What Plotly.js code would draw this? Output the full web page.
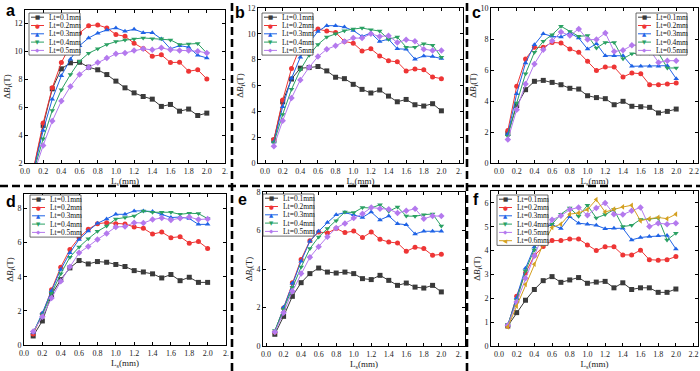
<!DOCTYPE html>
<html>
<head>
<meta charset="utf-8">
<script src="https://cdn.plot.ly/plotly-3.0.1.min.js"></script>
<style>html,body{margin:0;padding:0;background:#fff;}#chart{width:700px;height:371px;}</style>
</head>
<body>
<div id="chart"></div>
<script>
// ---------------- DATA ----------------
const LS = [0.1,0.2,0.3,0.4,0.5,0.6,0.7,0.8,0.9,1.0,1.1,1.2,1.3,1.4,1.5,1.6,1.7,1.8,1.9,2.0];
const LT_LABELS = ['Lt=0.1mm','Lt=0.2mm','Lt=0.3mm','Lt=0.4mm','Lt=0.5mm','Lt=0.6mm'];
const PANEL_LETTERS = ['a','b','c','d','e','f'];

// panel a
const a_lt01 = [1.7,4.69,7.31,8.74,9.17,9.21,8.86,8.67,8.33,7.86,7.38,7.02,6.76,6.57,6.05,6.19,5.71,5.86,5.40,5.57];
const a_lt02 = [1.8,4.86,7.38,9.19,10.43,11.31,11.83,11.88,11.67,11.19,11.07,10.57,10.19,9.64,9.74,9.19,9.21,8.57,8.67,8.02];
const a_lt03 = [1.6,4.33,6.57,8.24,9.43,10.40,10.95,11.29,11.52,11.67,11.43,11.57,11.33,11.33,10.88,10.17,10.40,10.29,9.71,9.52];
const a_lt04 = [1.5,3.74,5.76,7.24,8.33,9.29,9.86,10.17,10.48,10.69,10.81,10.88,10.95,10.90,10.90,10.81,10.48,10.52,10.55,9.86];
const a_lt05 = [1.3,3.26,5.00,6.43,7.48,8.33,8.86,9.19,9.52,9.81,9.88,10.05,10.17,10.10,10.24,10.10,10.05,10.05,10.00,9.88];
// panel b
const b_lt01 = [1.76,4.74,6.50,7.34,7.39,7.47,7.13,6.64,6.53,6.09,5.70,5.42,5.65,5.18,4.74,4.92,4.51,4.41,4.59,4.04];
const b_lt02 = [1.81,4.87,7.31,9.02,10.06,10.37,10.21,10.11,9.41,9.28,8.68,8.84,8.29,7.91,7.83,7.13,7.28,7.21,6.66,6.53];
const b_lt03 = [1.63,4.35,6.56,8.19,9.33,10.19,10.63,10.63,10.52,10.26,9.80,10.06,9.41,9.59,8.84,8.81,8.04,8.29,8.24,8.09];
const b_lt04 = [1.56,3.76,5.70,7.21,8.35,9.18,9.75,10.00,10.24,10.37,10.45,10.32,10.21,9.59,9.75,8.97,8.97,9.23,9.12,8.19];
const b_lt05 = [1.30,3.27,5.03,6.43,7.41,8.24,8.81,9.07,9.41,9.67,9.67,10.00,9.80,9.85,9.33,9.54,9.43,8.81,8.71,8.71];
// panel c
const c_lt01 = [1.90,3.70,4.73,5.27,5.33,5.20,5.05,4.82,4.77,4.34,4.22,4.15,3.76,3.98,3.66,3.63,3.59,3.23,3.33,3.48];
const c_lt02 = [2.09,4.95,6.71,7.46,7.46,7.78,7.74,7.35,7.14,6.56,5.96,6.19,6.19,5.55,5.81,5.76,5.05,5.05,5.10,5.16];
const c_lt03 = [1.87,4.47,6.45,7.63,8.34,8.17,8.13,8.39,8.06,7.35,7.70,6.92,6.92,6.92,6.24,6.24,6.24,6.24,6.28,5.44];
const c_lt04 = [1.72,3.87,5.76,7.14,7.85,8.28,8.82,8.49,8.17,8.22,7.42,7.78,7.78,6.73,7.05,7.10,7.10,7.10,6.13,6.13];
const c_lt05 = [1.51,3.44,5.10,6.39,7.31,7.89,8.45,8.22,8.65,7.96,7.96,8.39,7.20,7.27,7.59,7.63,7.31,6.49,6.60,6.60];
// panel d
const d_lt01 = [0.53,1.41,2.95,3.83,4.52,4.95,4.75,4.89,4.85,4.72,4.60,4.36,4.28,4.17,3.93,4.13,3.77,3.97,3.67,3.67];
const d_lt02 = [0.65,1.81,3.24,4.56,5.60,6.29,6.78,7.11,7.17,7.11,7.09,6.92,6.84,6.50,6.62,6.29,6.35,5.97,6.07,5.66];
const d_lt03 = [0.73,1.87,3.18,4.42,5.40,6.19,6.68,7.13,7.39,7.66,7.66,7.86,7.86,7.82,7.66,7.47,7.50,7.41,7.07,7.07];
const d_lt04 = [0.75,1.77,3.03,4.17,5.15,5.74,6.23,6.66,6.97,7.39,7.47,7.56,7.86,7.78,7.78,7.78,7.66,7.72,7.70,7.41];
const d_lt05 = [0.79,1.65,2.75,3.73,4.58,5.40,5.78,6.19,6.54,6.92,6.94,7.17,7.15,7.35,7.45,7.33,7.43,7.50,7.35,7.39];
// panel e
const e_lt01 = [0.61,1.54,2.58,3.29,3.76,4.05,3.84,3.79,3.84,3.76,3.50,3.45,3.67,3.41,3.15,3.27,3.06,3.01,3.15,2.81];
const e_lt02 = [0.73,1.97,3.29,4.50,5.47,5.92,5.87,6.10,5.89,5.97,5.63,5.92,5.54,5.40,5.35,4.92,5.13,5.06,4.71,4.76];
const e_lt03 = [0.76,2.01,3.26,4.40,5.44,5.96,6.41,6.82,6.93,6.82,6.68,6.96,6.55,6.75,6.35,6.30,5.82,5.96,5.96,5.96];
const e_lt04 = [0.81,1.90,3.05,4.10,5.06,5.66,6.10,6.51,6.96,6.93,7.19,7.17,7.34,7.00,7.22,6.75,6.74,6.82,6.86,6.23];
const e_lt05 = [0.73,1.73,2.84,3.76,4.61,5.16,5.68,6.13,6.37,6.65,6.87,7.19,7.13,7.10,6.91,7.03,7.13,6.61,6.75,6.75];
// panel f
const f_lt01 = [0.84,1.40,1.92,2.37,2.74,2.91,2.67,2.77,2.87,2.63,2.68,2.71,2.44,2.65,2.37,2.44,2.44,2.25,2.25,2.39];
const f_lt02 = [0.84,2.09,3.06,3.79,4.17,4.42,4.42,4.49,4.49,4.24,4.00,4.16,4.16,3.82,3.82,4.02,3.62,3.60,3.62,3.75];
const f_lt03 = [0.87,2.02,3.26,4.15,4.98,5.08,4.93,5.42,5.15,5.11,5.06,4.92,4.94,4.94,4.45,4.55,4.59,4.62,4.63,4.07];
const f_lt04 = [0.90,1.92,3.15,4.03,4.97,5.11,5.53,5.79,5.44,5.90,5.37,5.51,5.72,5.01,5.06,5.31,5.32,5.37,4.45,4.73];
const f_lt05 = [0.87,1.85,2.84,3.78,4.70,5.29,5.46,5.72,5.81,5.48,5.79,6.00,5.53,5.51,5.67,5.81,5.01,5.15,5.11,5.15];
const f_lt06 = [0.80,1.67,2.58,3.43,4.27,4.97,5.11,5.53,5.58,5.72,6.14,5.62,5.74,5.83,5.90,5.25,5.34,5.39,5.34,5.53];

const X_TICKS = [0,0.2,0.4,0.6,0.8,1.0,1.2,1.4,1.6,1.8,2.0,2.2];
const X_TICK_TEXT_FULL = ['0.0','0.2','0.4','0.6','0.8','1.0','1.2','1.4','1.6','1.8','2.0','2.2'];
const X_TICK_TEXT_CUT  = ['0.0','0.2','0.4','0.6','0.8','1.0','1.2','1.4','1.6','1.8','2.0','2.'];
const Y_TICKS_A = [2,4,6,8,10,12];
const Y_TICKS_B = [0,2,4,6,8,10,12];
const Y_TICKS_C = [0,2,4,6,8,10];
const Y_TICKS_D = [0,2,4,6,8];
const Y_TICKS_E = [0,2,4,6,8];
const Y_TICKS_F = [0,1,2,3,4,5,6];

const X_TITLE = 'L<sub>s</sub>(mm)';
const Y_TITLE = 'Δ<i>B</i><sub>i</sub>(T)';

const PANEL_SERIES = [
  [a_lt01,a_lt02,a_lt03,a_lt04,a_lt05],
  [b_lt01,b_lt02,b_lt03,b_lt04,b_lt05],
  [c_lt01,c_lt02,c_lt03,c_lt04,c_lt05],
  [d_lt01,d_lt02,d_lt03,d_lt04,d_lt05],
  [e_lt01,e_lt02,e_lt03,e_lt04,e_lt05],
  [f_lt01,f_lt02,f_lt03,f_lt04,f_lt05,f_lt06]
];
const PANEL_YTICKS = [Y_TICKS_A,Y_TICKS_B,Y_TICKS_C,Y_TICKS_D,Y_TICKS_E,Y_TICKS_F];
const PANEL_XTEXT = [X_TICK_TEXT_CUT,X_TICK_TEXT_CUT,X_TICK_TEXT_FULL,X_TICK_TEXT_CUT,X_TICK_TEXT_CUT,X_TICK_TEXT_FULL];

// ---------------- STYLE ----------------
const W = 700, H = 371;
const COLORS = ['#3a3a3a','#ee3535','#1f63e6','#2ba163','#b479ee','#d4a020'];
const SYMBOLS = ['square','circle','triangle-up','triangle-down','diamond','triangle-left'];
const KEY_GLYPHS = ['■','●','▲','▼','◆','◀'];
const SERIF = 'Liberation Serif, Times New Roman, serif';

// pixel boxes of each plot area [left, right, top, bottom], x range, y range, legend box top-left (px)
const PANELS = [
  {box:[25,225,10,163],  xr:[0,2.2],       yr:[2,12.95], leg:[29,13]},
  {box:[258,463,8,163],  xr:[-0.08,2.245], yr:[0,12],    leg:[262,13]},
  {box:[491,698,8,163],  xr:[-0.09,2.246], yr:[0,10],    leg:[636,13]},
  {box:[24,226,194,345], xr:[0,2.2],       yr:[0,8.85],  leg:[30,195]},
  {box:[263,465,192,346],xr:[-0.035,2.27], yr:[0,8],     leg:[263,194]},
  {box:[491,698,191,346],xr:[-0.09,2.25],  yr:[0,6.5],   leg:[497,195]}
];
const LEG_DY = 8.3, LEG_TOP = 4.2, LEG_TEXT_X = 18.5, LEG_LINE_X0 = 2, LEG_LINE_W = 13, LEG_W = 51;

const traces = [];
const layout = {
  width: W, height: H,
  margin: {l:0,r:0,t:0,b:0, autoexpand: false},
  paper_bgcolor: '#fff', plot_bgcolor: '#fff',
  showlegend: false,
  font: {family: SERIF, size: 8, color: '#222'},
  shapes: [], annotations: []
};
const px = v => v / W;
const py = v => 1 - v / H;

PANELS.forEach((p, i) => {
  const n = i + 1;
  const xa = n === 1 ? 'xaxis' : 'xaxis' + n;
  const ya = n === 1 ? 'yaxis' : 'yaxis' + n;
  const xid = n === 1 ? 'x' : 'x' + n;
  const yid = n === 1 ? 'y' : 'y' + n;
  const axCommon = {
    showline: true, mirror: 'ticks', linecolor: '#000', linewidth: 1,
    ticks: 'inside', ticklen: 3, tickcolor: '#000', tickwidth: 1,
    showgrid: false, zeroline: false, fixedrange: true, automargin: false,
    tickfont: {family: SERIF, size: 8, color: '#222'}
  };
  layout[xa] = Object.assign({}, axCommon, {
    domain: [px(p.box[0]), px(p.box[1])], anchor: yid, range: p.xr,
    tickmode: 'array', tickvals: X_TICKS, ticktext: PANEL_XTEXT[i],
    title: {text: X_TITLE, font: {family: SERIF, size: 9, color: '#222'}, standoff: 3}
  });
  layout[ya] = Object.assign({}, axCommon, {
    domain: [py(p.box[3]), py(p.box[2])], anchor: xid, range: p.yr,
    tickmode: 'array', tickvals: PANEL_YTICKS[i],
    title: {text: Y_TITLE, font: {family: SERIF, size: 9, color: '#222'}, standoff: 2}
  });

  const series = PANEL_SERIES[i];
  series.forEach((ys, k) => {
    traces.push({
      type: 'scatter', mode: 'lines+markers',
      x: LS, y: ys, xaxis: xid, yaxis: yid,
      name: LT_LABELS[k],
      line: {color: COLORS[k], width: 1},
      marker: {symbol: SYMBOLS[k], size: 5, color: COLORS[k]},
      cliponaxis: true
    });
  });

  // legend box (white, framed) drawn over the curves like the original
  const L = p.leg[0], T = p.leg[1];
  const legH = LEG_TOP * 2 + (series.length - 1) * LEG_DY + 0.5;
  layout.shapes.push({type: 'rect', xref: 'paper', yref: 'paper',
    x0: px(L), x1: px(L + LEG_W), y0: py(T + legH), y1: py(T),
    fillcolor: '#fff', line: {color: '#444', width: 0.8}, layer: 'above'});
  series.forEach((ys, k) => {
    const cy = T + LEG_TOP + k * LEG_DY;
    layout.shapes.push({type: 'line', xref: 'paper', yref: 'paper',
      x0: px(L + LEG_LINE_X0), x1: px(L + LEG_LINE_X0 + LEG_LINE_W), y0: py(cy), y1: py(cy),
      line: {color: COLORS[k], width: 1}, layer: 'above'});
    layout.annotations.push({text: KEY_GLYPHS[k], xref: 'paper', yref: 'paper',
      x: px(L + LEG_LINE_X0 + LEG_LINE_W / 2), y: py(cy), xanchor: 'center', yanchor: 'middle',
      showarrow: false, borderpad: 0,
      font: {family: 'DejaVu Sans, sans-serif', size: 5.5, color: COLORS[k]}});
    layout.annotations.push({text: LT_LABELS[k], xref: 'paper', yref: 'paper',
      x: px(L + LEG_TEXT_X), y: py(cy), xanchor: 'left', yanchor: 'middle',
      showarrow: false, borderpad: 0,
      font: {family: SERIF, size: 7.5, color: '#111'}});
  });
});

// panel letters
const LETTER_POS = [[10,11],[240,12],[477,12],[11,201],[242,199],[476,200]];
PANEL_LETTERS.forEach((t, i) => {
  layout.annotations.push({
    text: t, xref: 'paper', yref: 'paper',
    x: px(LETTER_POS[i][0]), y: py(LETTER_POS[i][1]),
    xanchor: 'center', yanchor: 'middle', showarrow: false,
    font: {family: 'Liberation Sans, Arial, sans-serif', size: 16, color: '#000', weight: 'bold'}
  });
});

// dashed separators
const dashLine = {color: '#000', width: 2.6, dash: '8px,4px'};
layout.shapes.push({type:'line', xref:'paper', yref:'paper', x0:px(232), x1:px(232), y0:0, y1:1, line: dashLine, layer:'above'});
layout.shapes.push({type:'line', xref:'paper', yref:'paper', x0:px(467), x1:px(467), y0:0, y1:1, line: dashLine, layer:'above'});
layout.shapes.push({type:'line', xref:'paper', yref:'paper', x0:0, x1:1, y0:py(186), y1:py(186), line: dashLine, layer:'above'});

Plotly.newPlot('chart', traces, layout, {displayModeBar: false, staticPlot: true});
</script>
</body>
</html>
